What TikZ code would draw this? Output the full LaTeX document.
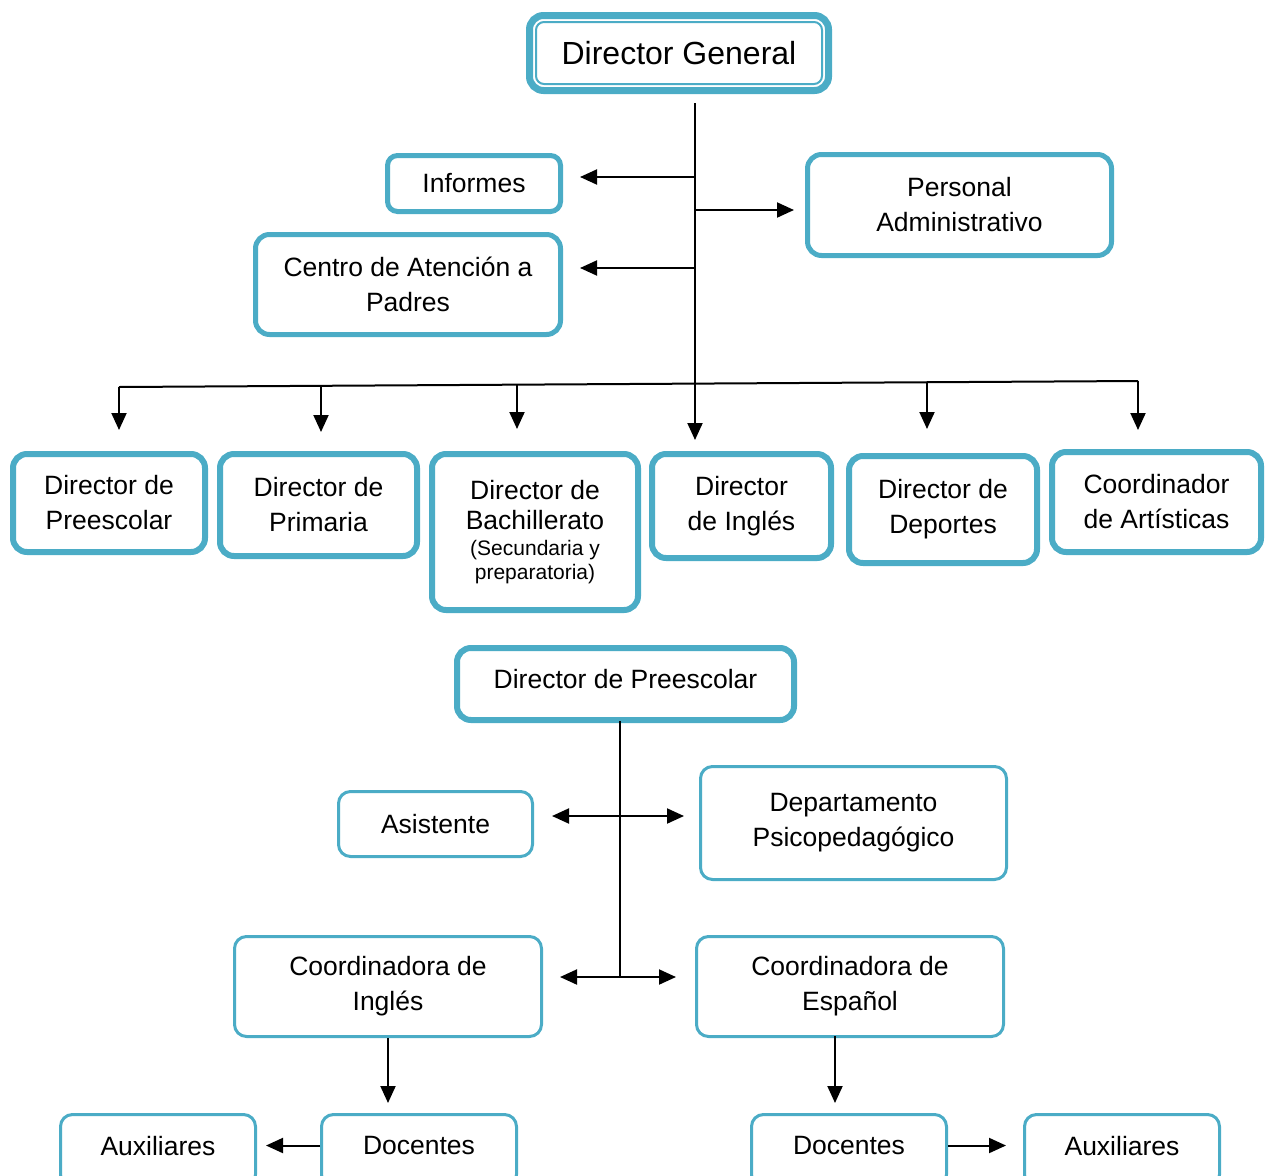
\documentclass[tikz,border=0pt]{standalone}
\usepackage{fontspec}
\setmainfont{Liberation Sans}
\usetikzlibrary{arrows.meta}
\definecolor{boxc}{RGB}{75,172,198}
\begin{document}
\begin{tikzpicture}[x=1pt,y=-1pt,
  bbox/.style={draw=boxc, rounded corners=14pt, fill=white, inner sep=0pt, align=center,
    font=\fontsize{26.5}{35}\selectfont, line width=6pt},
  sbox/.style={bbox, line width=3pt, rounded corners=12pt},
  ln/.style={line width=2pt},
  arr/.style={ln, -{Triangle[length=17pt,width=15pt]}},
]
\useasboundingbox (0,0) rectangle (1265,1175);
\clip (0,0) rectangle (1265,1175);

% ---- top level
\node[bbox, line width=7pt, minimum width=299pt, minimum height=75pt,
  font=\fontsize{32}{38}\selectfont] (dg) at (679,53) {Director General};
\draw[boxc, line width=2pt, rounded corners=8pt]
  ([shift={(10,10)}]dg.north west) rectangle ([shift={(-10,-10)}]dg.south east);

\node[bbox, line width=5pt, rounded corners=10pt, minimum width=173pt, minimum height=56pt] (inf) at (474,183.5) {Informes};
\node[bbox, line width=5pt, minimum width=305pt, minimum height=100pt] (cap) at (408,284.5) {Centro de Atención a\\Padres};
\node[bbox, line width=5pt, minimum width=304pt, minimum height=101pt] (pa) at (959.5,205) {Personal\\Administrativo};

\node[bbox, minimum width=192pt, minimum height=98pt] (pre) at (109,503) {Director de\\Preescolar};
\node[bbox, minimum width=197pt, minimum height=102pt] (pri) at (318.5,505) {Director de\\Primaria};
\node[bbox, minimum width=206pt, minimum height=156pt, font=\fontsize{26.5}{30}\selectfont] (bac) at (535,532)
  {Director de\\Bachillerato\\[-4pt]\fontsize{21}{24}\selectfont (Secundaria y\\[-6pt]\fontsize{21}{24}\selectfont preparatoria)};
\node[bbox, minimum width=179pt, minimum height=104pt] (ing) at (741.5,506) {Director\\de Inglés};
\node[bbox, minimum width=188pt, minimum height=107pt] (dep) at (943,509.5) {Director de\\Deportes};
\node[bbox, minimum width=209pt, minimum height=100pt] (art) at (1156.5,502) {Coordinador\\de Artísticas};

% ---- connectors top
\coordinate (j0) at (695,103);
\coordinate (j1) at (695,177);
\coordinate (j2) at (695,210);
\coordinate (j3) at (695,268);
\draw[arr, shorten >=11pt] (j0) -- (ing.north -| j0);
\draw[arr, shorten >=17pt] (j1) -- (inf.east |- j1);
\draw[arr, shorten >=11pt] (j2) -- (pa.west |- j2);
\draw[arr, shorten >=17pt] (j3) -- (cap.east |- j3);

\coordinate (d1) at (119,387);
\coordinate (d2) at (321,386);
\coordinate (d3) at (517,385);
\coordinate (d5) at (927,382);
\coordinate (d6) at (1138,381);
\draw[ln] (d1) -- (d6);
\draw[arr, shorten >=21pt] (d1) -- (d1 |- pre.north);
\draw[arr, shorten >=19pt] (d2) -- (d2 |- pri.north);
\draw[arr, shorten >=22pt] (d3) -- (d3 |- bac.north);
\draw[arr, shorten >=24pt] (d5) -- (d5 |- dep.north);
\draw[arr, shorten >=19pt] (d6) -- (d6 |- art.north);

% ---- lower chart
\node[bbox, minimum width=337pt, minimum height=72pt] (dp) at (625.5,684) {\raisebox{10pt}{Director de Preescolar}};
\node[sbox, minimum width=194pt, minimum height=65pt] (asi) at (435.5,824) {Asistente};
\node[sbox, minimum width=306pt, minimum height=113pt] (dpp) at (853.5,823) {Departamento\\Psicopedagógico};
\node[sbox, minimum width=307pt, minimum height=100pt] (ci) at (388,986.5) {Coordinadora de\\Inglés};
\node[sbox, minimum width=307pt, minimum height=100pt] (ce) at (850,986.5) {Coordinadora de\\Español};
\node[sbox, minimum width=195pt, minimum height=72pt] (docL) at (419,1150.5) {\raisebox{10pt}{Docentes}};
\node[sbox, minimum width=195pt, minimum height=72pt] (auxL) at (158,1150.5) {\raisebox{10pt}{Auxiliares}};
\node[sbox, minimum width=195pt, minimum height=72pt] (docR) at (849,1150.5) {\raisebox{10pt}{Docentes}};
\node[sbox, minimum width=195pt, minimum height=72pt] (auxR) at (1122,1150.5) {\raisebox{10pt}{Auxiliares}};

\coordinate (k0) at (620,721);
\coordinate (k1) at (620,816);
\coordinate (k2) at (620,977);
\draw[ln] (k0) -- (k2);
\draw[arr, shorten >=18pt] (k1) -- (asi.east |- k1);
\draw[arr, shorten >=15pt] (k1) -- (dpp.west |- k1);
\draw[arr, shorten >=17pt] (k2) -- (ci.east |- k2);
\draw[arr, shorten >=19pt] (k2) -- (ce.west |- k2);

\coordinate (m2) at (835,1036);
\draw[arr, shorten >=10pt] (ci.south) -- (docL.north -| ci.south);
\draw[arr, shorten >=10pt] (m2) -- (m2 |- docR.north);
\draw[arr, shorten >=9pt] ([yshift=5pt]docL.west) -- ([yshift=5pt]auxL.east);
\draw[arr, shorten >=17pt] ([yshift=5pt]docR.east) -- ([yshift=5pt]auxR.west);
\end{tikzpicture}
\end{document}
